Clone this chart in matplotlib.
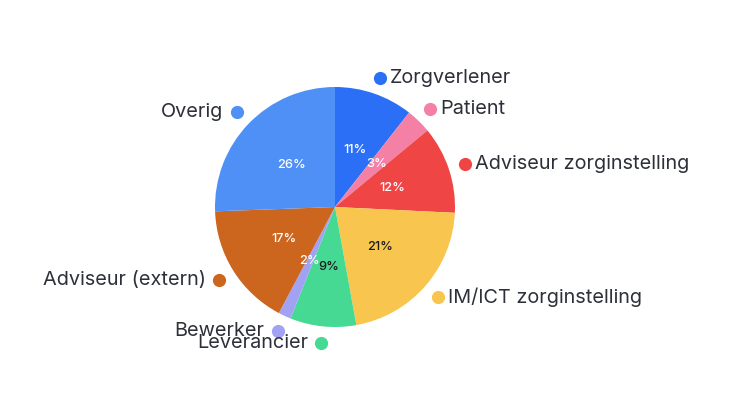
import numpy as np
import matplotlib
matplotlib.use("Agg")
import matplotlib.pyplot as plt

categories = ["Zorgverlener", "Patient", "Adviseur zorginstelling", "IM/ICT zorginstelling",
              "Leverancier", "Bewerker", "Adviseur (extern)", "Overig"]
values = [10.6, 3.4, 11.8, 21.4, 8.9, 1.7, 16.7, 25.6]
colors = ["#2a6ff6", "#f580a6", "#f04545", "#f8c64e", "#46d993", "#a2a2f4", "#cc661f", "#4f90f6"]
pct_colors = ["white", "white", "white", "#1c1c1c", "#1c1c1c", "white", "white", "white"]

plt.rcParams['font.family'] = ['Inter', 'DejaVu Sans']

W, H = 730, 395
fig = plt.figure(figsize=(W / 100, H / 100), dpi=100)
ax = fig.add_axes([0, 0, 1, 1])
cx, cy, R = 335, 207, 120

wedges, _, autotexts = ax.pie(values, colors=colors, startangle=90, counterclock=False,
                              radius=1, center=(0, 0), autopct='%.0f%%', pctdistance=0.5,
                              textprops=dict(fontsize=9.2, fontweight='medium'), frame=False)
ax.set_xlim(-cx / R, (W - cx) / R)
ax.set_ylim(-(H - cy) / R, cy / R)
ax.set_aspect('equal')
ax.axis('off')

for t, c in zip(autotexts, pct_colors):
    t.set_color(c)

for w, name, col in zip(wedges, categories, colors):
    ang = np.deg2rad((w.theta1 + w.theta2) / 2)
    x, y = 1.14 * np.cos(ang), 1.14 * np.sin(ang)
    ax.plot([x], [y], 'o', color=col, markersize=9.5, markeredgewidth=0)
    if x >= 0:
        ax.text(x + 10 / R, y, name, ha='left', va='center', fontsize=14.3, color='#2d3039')
    else:
        ax.text(x - 13 / R, y, name, ha='right', va='center', fontsize=14.3, color='#2d3039')

fig.savefig("out.png", dpi=100, facecolor='white')
